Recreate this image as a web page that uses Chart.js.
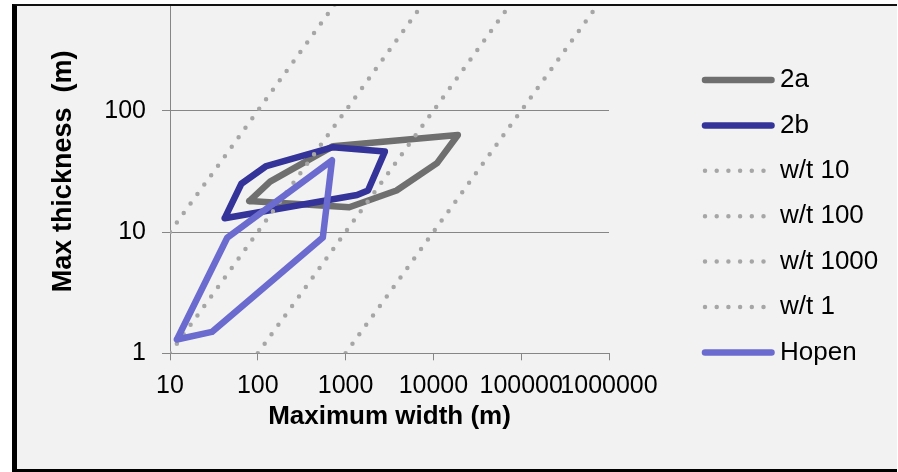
<!DOCTYPE html>
<html>
<head>
<meta charset="utf-8">
<script src="https://cdn.jsdelivr.net/npm/chart.js@4.4.1/dist/chart.umd.min.js"></script>
<style>
  html, body { margin: 0; padding: 0; background: #ffffff; }
  #frame {
    position: absolute; left: 12px; top: 4px;
    width: 880px; height: 463px;
    border-left: 5px solid #000; border-top: 2px solid #111; border-bottom: 3px solid #000;
    background: #f2f2f2; overflow: hidden;
  }
  #c { position: absolute; left: -17px; top: -30px; }
</style>
</head>
<body>
<div id="frame"><canvas id="c" width="898" height="496"></canvas></div>
<script>
// Outlines of maximum width vs. maximum thickness (m), log-log
const width2a = [80, 138, 720, 19000, 11000, 3800, 1100, 80];
const thick2a = [18, 26, 51, 63, 37, 22, 16, 18];

const width2b = [42, 65, 125, 720, 2800, 1800, 1350, 42];
const thick2b = [13, 25, 35, 50, 46, 22, 20.2, 13];

const widthHopen = [12, 45, 700, 550, 30, 12];
const thickHopen = [1.3, 9, 39, 9, 1.5, 1.3];

// Constant width/thickness ratio guides
const widthWt10 = [10, 10000];
const thickWt10 = [1, 1000];
const widthWt100 = [100, 100000];
const thickWt100 = [1, 1000];
const widthWt1000 = [1000, 1000000];
const thickWt1000 = [1, 1000];
const widthWt1 = [10, 1000];
const thickWt1 = [10, 1000];

const xTickValues = [10, 100, 1000, 10000, 100000, 1000000];
const xTickLabels = ['10', '100', '1000', '10000', '100000', '1000000'];
const yTickValues = [1, 10, 100, 1000];
const yTickLabels = ['1', '10', '100', '1000'];

const FAMILY = '"Liberation Sans", Arial, sans-serif';
const GRID = '#868686';
const DOT = '#a6a6a6';

const pts = (xs, ys) => xs.map((x, i) => ({ x: x, y: ys[i] }));

const solid = (label, xs, ys, color) => ({
  label, data: pts(xs, ys), showLine: true, pointRadius: 0,
  borderColor: color, backgroundColor: color, borderWidth: 6.5,
  borderJoinStyle: 'round', borderCapStyle: 'round', fill: false
});
const dotted = (label, xs, ys) => ({
  label, data: pts(xs, ys), showLine: true, pointRadius: 0,
  borderColor: DOT, backgroundColor: DOT, borderWidth: 4.5,
  borderDash: [0, 11.7], borderCapStyle: 'round', fill: false
});

const datasets = [
  solid('2a', width2a, thick2a, '#6f6f6f'),
  solid('2b', width2b, thick2b, '#333399'),
  dotted('w/t 10', widthWt10, thickWt10),
  dotted('w/t 100', widthWt100, thickWt100),
  dotted('w/t 1000', widthWt1000, thickWt1000),
  dotted('w/t 1', widthWt1, thickWt1),
  solid('Hopen', widthHopen, thickHopen, '#6b6bcf')
];
// later series are painted over earlier ones
datasets.forEach((d, i) => { d.order = datasets.length - 1 - i; });

// Legend drawn as a column of line samples to the right of the plot
const sideLegend = {
  id: 'sideLegend',
  afterDraw(chart) {
    const ctx = chart.ctx;
    const x0 = 705, x1 = 771.5, xText = 780;
    const top = 104, step = 45.4;
    ctx.save();
    chart.data.datasets.forEach((d, i) => {
      const y = top + i * step;
      ctx.beginPath();
      ctx.strokeStyle = d.borderColor;
      ctx.lineWidth = d.borderWidth;
      ctx.lineCap = 'round';
      if (d.borderDash) {
        ctx.setLineDash(d.borderDash);
        ctx.moveTo(x0, y); ctx.lineTo(764, y);
      } else {
        ctx.setLineDash([]);
        ctx.moveTo(x0, y); ctx.lineTo(x1, y);
      }
      ctx.stroke();
      ctx.setLineDash([]);
      ctx.fillStyle = '#000';
      ctx.font = '26px ' + FAMILY;
      ctx.textAlign = 'left';
      ctx.textBaseline = 'middle';
      ctx.fillText(d.label, xText, y);
    });
    ctx.restore();
  }
};

// scales keep their fixed sizes; no extra room for edge labels
const noEdgePadding = (s) => {
  s.paddingTop = 0; s.paddingBottom = 0; s.paddingLeft = 0; s.paddingRight = 0;
};

new Chart(document.getElementById('c'), {
  type: 'scatter',
  data: { datasets },
  options: {
    responsive: false,
    animation: false,
    layout: { padding: { left: 0, top: 13.4, right: 289, bottom: 0 } },
    plugins: { legend: { display: false }, tooltip: { enabled: false } },
    scales: {
      x: {
        type: 'logarithmic', min: 10, max: 1000000, position: 'bottom',
        afterBuildTicks: (s) => { s.ticks = xTickValues.map(v => ({ value: v })); },
        afterFit: (s) => { s.height = 496 - 377.3; noEdgePadding(s); },
        ticks: {
          autoSkip: false, maxRotation: 0, minRotation: 0, padding: 11, color: '#000',
          font: { family: FAMILY, size: 25 },
          callback: (v, i) => xTickLabels[i]
        },
        grid: { drawOnChartArea: false, color: GRID, tickColor: GRID, tickLength: 7 },
        border: { color: GRID, width: 1 },
        title: {
          display: true, text: 'Maximum width (m)', color: '#000',
          font: { family: FAMILY, size: 26, weight: 'bold' },
          padding: { top: 0, bottom: 40 }
        }
      },
      y: {
        type: 'logarithmic', min: 1, max: 1000,
        afterBuildTicks: (s) => { s.ticks = yTickValues.map(v => ({ value: v })); },
        afterFit: (s) => { s.width = 170; noEdgePadding(s); },
        ticks: {
          autoSkip: false, padding: 16, color: '#000',
          font: { family: FAMILY, size: 25 },
          callback: (v, i) => yTickLabels[i]
        },
        grid: { color: GRID, tickColor: GRID, tickLength: 8 },
        border: { color: GRID, width: 1 },
        title: {
          display: true, text: 'Max thickness  (m)', color: '#000',
          font: { family: FAMILY, size: 27, weight: 'bold' },
          padding: { top: 47, bottom: 0 }
        }
      }
    }
  },
  plugins: [sideLegend]
});
</script>
</body>
</html>
